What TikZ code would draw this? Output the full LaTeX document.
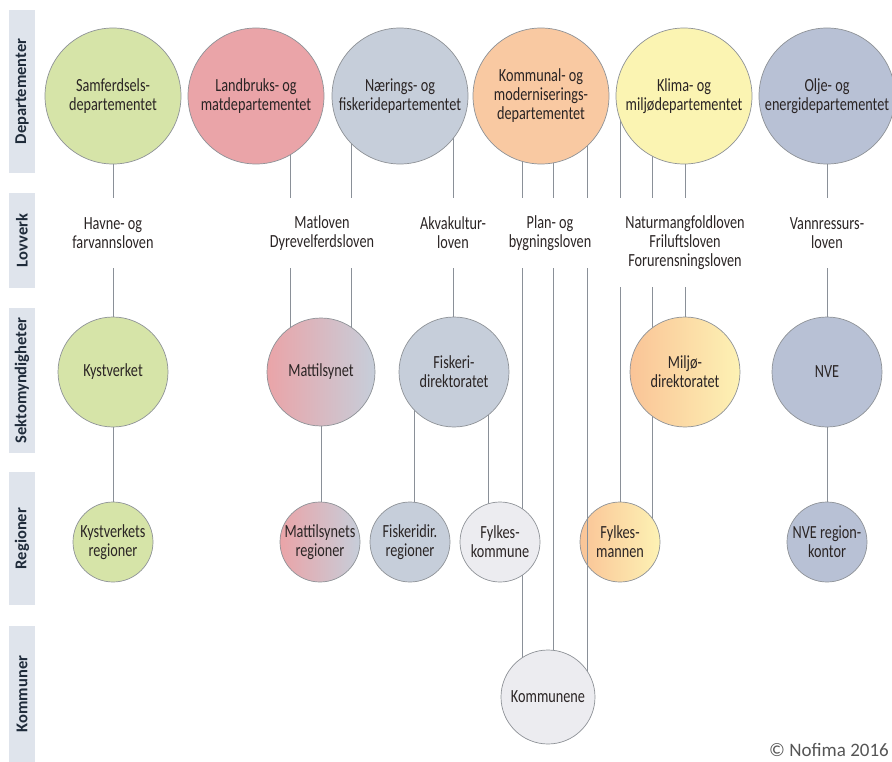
\documentclass[tikz,border=0pt]{standalone}
\usepackage{fontspec}
\setmainfont{Carlito}
\newfontfamily\cf[FakeStretch=0.77]{Carlito}
\definecolor{greenc}{HTML}{D6E4A8}
\definecolor{redc}{HTML}{EAA4A8}
\definecolor{bluec}{HTML}{C6CEDA}
\definecolor{dbluec}{HTML}{B8C1D5}
\definecolor{orangec}{HTML}{F9C9A2}
\definecolor{yellowc}{HTML}{FBF4B2}
\definecolor{greyc}{HTML}{ECECF0}
\definecolor{mljo}{HTML}{FAC497}
\definecolor{mljy}{HTML}{FDF2B4}
\definecolor{edgec}{HTML}{8E9297}
\definecolor{linec}{HTML}{8A9098}
\definecolor{barc}{HTML}{DFE4EC}
\definecolor{bartxt}{HTML}{1F2B3A}
\definecolor{txtc}{HTML}{2A2424}
\definecolor{copyc}{HTML}{555555}
\begin{document}
\begin{tikzpicture}[x=1pt,y=-1pt,
  circ/.style={circle, draw=edgec, line width=0.7pt, inner sep=0pt, outer sep=0pt, minimum size=#1},
  ctext/.style={font=\cf\fontsize{18.5}{19}\selectfont, text=txtc, align=center, inner sep=0pt},
  law/.style={ctext, minimum height=#1},
  conn/.style={draw=linec, line width=0.9pt},
  bar/.style={fill=barc, rotate=90, minimum height=26pt, minimum width=#1, inner sep=0pt,
    font=\bfseries\fontsize{16.5}{16.5}\selectfont, text=bartxt}]
\useasboundingbox (0,0) rectangle (892,762);
% side bars
\node[bar=163pt] (b1) at (22,91.5) {Departementer};
\node[bar=95pt] (b2) at (22,240.5) {Lovverk};
\node[bar=145pt] (b3) at (22,380.5) {Sektomyndigheter};
\node[bar=133pt] (b4) at (22,538.5) {Regioner};
\node[bar=136pt] (b5) at (22,694) {Kommuner};
% line x positions
\foreach \x in {113,290,321,351,414,453,488,522,553,587,620,652,685,827}
  \coordinate (x\x) at (\x,0);
% law nodes
\node[law=70pt] (havne) at (113,233) {Havne- og\\farvannsloven};
\node[law=70pt] (matlov) at (322,233) {Matloven\\Dyrevelferdsloven};
\node[law=70pt] (akva) at (453,233) {Akvakultur-\\loven};
\node[law=70pt] (plan) at (550,233) {Plan- og\\bygningsloven};
\node[law=89pt] (natur) at (685,242.5) {Naturmangfoldloven\\Friluftsloven\\Forurensningsloven};
\node[law=70pt] (vann) at (827,233) {Vannressurs-\\loven};
% coordinates of circle centres
\coordinate (csamf) at (113,96);
\coordinate (cland) at (256,96);
\coordinate (cnaer) at (400,96);
\coordinate (ckomm) at (541,96);
\coordinate (cklim) at (684,96);
\coordinate (colje) at (827,96);
\coordinate (ckyst) at (113,372);
\coordinate (cmatt) at (321,372);
\coordinate (cfisk) at (454,372);
\coordinate (cmilj) at (685,372);
\coordinate (cnve) at (827,372);
\coordinate (ckystr) at (113,542);
\coordinate (cmattr) at (320,542);
\coordinate (cfiskr) at (410,542);
\coordinate (cfylk) at (500,542);
\coordinate (cfylm) at (620,542);
\coordinate (cnver) at (827,542);
\coordinate (ckomn) at (548,697);
% connectors (behind circles)
\draw[conn] (x113 |- csamf) -- (x113 |- havne.north);
\draw[conn] (x113 |- havne.south) -- (x113 |- ckyst);
\draw[conn] (x113 |- ckyst) -- (x113 |- ckystr);
\draw[conn] (x290 |- cland) -- (x290 |- matlov.north);
\draw[conn] (x290 |- matlov.south) -- (x290 |- cmatt);
\draw[conn] (x351 |- cnaer) -- (x351 |- matlov.north);
\draw[conn] (x351 |- matlov.south) -- (x351 |- cmatt);
\draw[conn] (x321 |- cmatt) -- (x321 |- cmattr);
\draw[conn] (x453 |- cnaer) -- (x453 |- akva.north);
\draw[conn] (x453 |- akva.south) -- (x453 |- cfisk);
\draw[conn] (x414 |- cfisk) -- (x414 |- cfiskr);
\draw[conn] (x488 |- cfisk) -- (x488 |- cfylk);
\foreach \x in {522,553,587}{
  \draw[conn] (x\x |- ckomm) -- (x\x |- plan.north);
  \draw[conn] (x\x |- plan.south) -- (x\x |- ckomn);
}
\foreach \x in {620,652,685}
  \draw[conn] (x\x |- cklim) -- (x\x |- natur.north);
\draw[conn] (x620 |- natur.south) -- (x620 |- cfylm);
\draw[conn] (x652 |- natur.south) -- (x652 |- cfylm);
\draw[conn] (x685 |- natur.south) -- (x685 |- cmilj);
\draw[conn] (x827 |- colje) -- (x827 |- vann.north);
\draw[conn] (x827 |- vann.south) -- (x827 |- cnve);
\draw[conn] (x827 |- cnve) -- (x827 |- cnver);
% departementer
\node[circ=136pt, fill=greenc] (samf) at (csamf) {};
\node[circ=136pt, fill=redc] (land) at (cland) {};
\node[circ=136pt, fill=bluec] (naer) at (cnaer) {};
\node[circ=136pt, fill=orangec] (komm) at (ckomm) {};
\node[circ=136pt, fill=yellowc] (klim) at (cklim) {};
\node[circ=136pt, fill=dbluec] (olje) at (colje) {};
% sektor
\node[circ=110pt, fill=greenc] (kyst) at (ckyst) {};
\node[circ=108pt, left color=redc, right color=bluec] (matt) at (cmatt) {};
\node[circ=110pt, fill=bluec] (fisk) at (cfisk) {};
\node[circ=110pt, left color=mljo, right color=mljy] (milj) at (cmilj) {};
\node[circ=110pt, fill=dbluec] (nve) at (cnve) {};
% regioner
\node[circ=80pt, fill=greenc] (kystr) at (ckystr) {};
\node[circ=80pt, left color=redc, right color=bluec] (mattr) at (cmattr) {};
\node[circ=80pt, fill=bluec] (fiskr) at (cfiskr) {};
\node[circ=80pt, fill=greyc] (fylk) at (cfylk) {};
\node[circ=80pt, left color=mljo, right color=mljy] (fylm) at (cfylm) {};
\node[circ=80pt, fill=dbluec] (nver) at (cnver) {};
% kommuner
\node[circ=94pt, fill=greyc] (komn) at (ckomn) {};
% line drawn over Fylkesmannen
\draw[conn] (x587 |- fylm.north) -- (x587 |- fylm.south);
% texts
\node[ctext] (samf-t) at (samf) {Samferdsels-\\departementet};
\node[ctext] (land-t) at (land) {Landbruks- og\\matdepartementet};
\node[ctext] (naer-t) at (naer) {Nærings- og\\fiskeridepartementet};
\node[ctext] (komm-t) at (komm) {Kommunal- og\\moderniserings-\\departementet};
\node[ctext] (klim-t) at (klim) {Klima- og\\miljødepartementet};
\node[ctext] (olje-t) at (olje) {Olje- og\\energidepartementet};
\node[ctext] (kyst-t) at (kyst) {Kystverket};
\node[ctext] (matt-t) at (matt) {Mattilsynet};
\node[ctext] (fisk-t) at (fisk) {Fiskeri-\\direktoratet};
\node[ctext] (milj-t) at (milj) {Miljø-\\direktoratet};
\node[ctext] (nve-t) at (nve) {NVE};
\node[ctext] (kystr-t) at (kystr) {Kystverkets\\regioner};
\node[ctext] (mattr-t) at (mattr) {Mattilsynets\\regioner};
\node[ctext] (fiskr-t) at (fiskr) {Fiskeridir.\\regioner};
\node[ctext] (fylk-t) at (fylk) {Fylkes-\\kommune};
\node[ctext] (fylm-t) at (fylm) {Fylkes-\\mannen};
\node[ctext] (nver-t) at (nver) {NVE region-\\kontor};
\node[ctext] (komn-t) at (komn) {Kommunene};
% copyright
\node[anchor=base east, inner sep=0pt, font=\fontsize{19}{19}\selectfont, text=copyc] (copy) at (889,756) {© Nofima 2016};
\end{tikzpicture}
\end{document}
